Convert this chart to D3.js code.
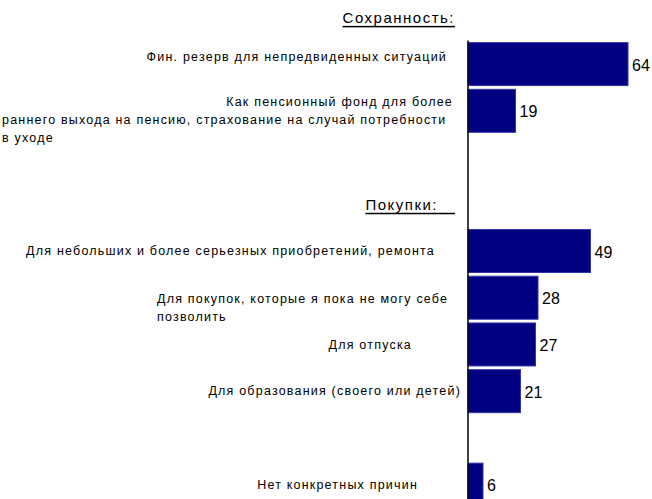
<!DOCTYPE html>
<html>
<head>
<meta charset="utf-8">
<script src="https://cdn.jsdelivr.net/npm/d3@7/dist/d3.min.js"></script>
<style>
  body { margin: 0; background: #fff; }
  text { font-family: "Liberation Sans", Arial, sans-serif; fill: #000; }
</style>
</head>
<body>
<div id="chart"></div>
<script>
// groups and their items (header null = no header, only a gap)
var groupNames = ["Сохранность:", "Покупки:", null];
var categories = [
  ["Фин. резерв для непредвиденных ситуаций"],
  ["Как пенсионный фонд для более", "раннего выхода на пенсию, страхование на случай потребности", "в уходе"],
  ["Для небольших и более серьезных приобретений, ремонта"],
  ["Для покупок, которые я пока не могу себе", "позволить"],
  ["Для отпуска"],
  ["Для образования (своего или детей)"],
  ["Нет конкретных причин"]
];
var categoryGroup = [0, 0, 1, 1, 1, 1, 2];
var values = [64, 19, 49, 28, 27, 21, 6];

// label placement (text boxes in the original are placed by hand)
var labelLayout = [
  {dy: -7, lines: [["end", 447]]},
  {dy: -9, lines: [["end", 453], ["start", 2], ["start", 2]]},
  {dy: 0, lines: [["end", 435]]},
  {dy: 1, lines: [["start", 157], ["start", 157]]},
  {dy: 1, lines: [["end", 412]]},
  {dy: 0, lines: [["end", 461]]},
  {dy: 0, lines: [["end", 418]]}
];

var width = 652, height = 499, axisX = 468;

// build slots: header rows, items, blank gaps between groups
var slots = [];
groupNames.forEach(function(g, gi){
    if (gi > 0) slots.push("gap" + gi);
    if (g) slots.push("head" + gi);
    categoryGroup.forEach(function(cg, i){ if (cg == gi) slots.push("c" + i); });
});

var svg = d3.select("#chart").append("svg")
    .attr("width", width)
    .attr("height", height);

var x = d3.scaleLinear().domain([0, 100]).range([axisX, axisX + 250]);
var y = d3.scaleBand().domain(slots).range([-6, 508]).paddingInner(0.08).paddingOuter(0.04);

// headers
groupNames.forEach(function(g, gi){
    if (!g) return;
    svg.append("text")
        .attr("x", 455)
        .attr("y", y("head" + gi) + y.bandwidth()/2)
        .attr("text-anchor", "end")
        .attr("dominant-baseline", "central")
        .style("font-size", "15px")
        .style("letter-spacing", "1.5px")
        .style("text-decoration", "underline")
        .style("white-space", "pre")
        .text(gi == 1 ? g + "   " : g);
});

// bars
svg.selectAll("rect.bar")
    .data(values)
  .enter().append("rect")
    .attr("class", "bar")
    .attr("x", x(0))
    .attr("y", function(d, i){ return y("c" + i); })
    .attr("width", function(d){ return x(d) - x(0); })
    .attr("height", y.bandwidth())
    .style("fill", "#000080")
    .style("stroke", "#3434b0")
    .style("stroke-width", 1);

// axis line
svg.append("line")
    .attr("x1", axisX).attr("x2", axisX)
    .attr("y1", y("c0") - 2).attr("y2", height + 20)
    .style("stroke", "#000")
    .style("stroke-width", 1.5);

// value labels
svg.selectAll("text.val")
    .data(values)
  .enter().append("text")
    .attr("class", "val")
    .attr("x", function(d){ return x(d) + 4; })
    .attr("y", function(d, i){ return y("c" + i) + y.bandwidth()/2 + 1; })
    .attr("dominant-baseline", "central")
    .style("font-size", "16px")
    .text(function(d){ return d; });

// category labels
categories.forEach(function(lines, i){
    var cy = y("c" + i) + y.bandwidth()/2 + labelLayout[i].dy;
    lines.forEach(function(line, li){
        var lay = labelLayout[i].lines[li];
        svg.append("text")
            .attr("x", lay[1])
            .attr("y", cy + li*18)
            .attr("text-anchor", lay[0])
            .attr("dominant-baseline", "central")
            .style("font-size", "12.5px")
            .style("letter-spacing", "1.2px")
            .text(line);
    });
});
</script>
</body>
</html>
